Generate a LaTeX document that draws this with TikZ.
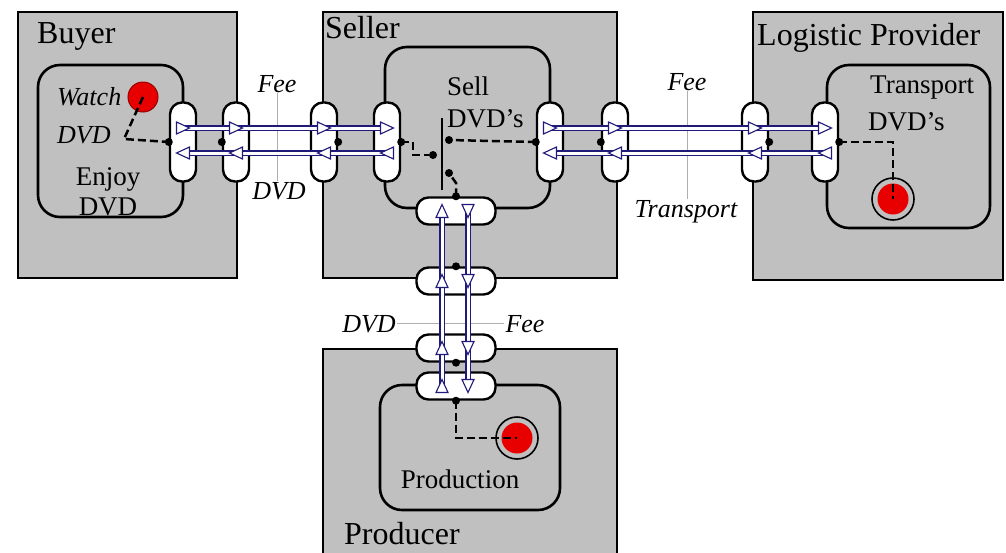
\documentclass[tikz,border=0pt]{standalone}
\usepackage{fontspec}
\setmainfont{Liberation Serif}
\usepackage{tikz}
\usetikzlibrary{
  arrows.meta,
  positioning,
  calc
}
\definecolor{panelgray}{RGB}{192,192,192}
\definecolor{flownavy}{RGB}{32,26,120}
\definecolor{labelgray}{RGB}{175,175,175}
\definecolor{stimred}{RGB}{232,0,0}

\begin{document}
\begin{tikzpicture}[x=1pt,y=-1pt,
  actor/.style={draw=black, fill=panelgray, line width=2.2pt, inner sep=0pt},
  activity/.style={draw=black, fill=panelgray, line width=2.6pt, rounded corners=22pt, inner sep=0pt},
  vface/.style={draw=black, fill=white, line width=2.4pt, rounded corners=12pt, minimum width=26pt, minimum height=79pt, inner sep=0pt},
  hface/.style={draw=black, fill=white, line width=2.4pt, rounded corners=12pt, minimum width=79pt, minimum height=27pt, inner sep=0pt},
  xline/.style={draw=flownavy, line width=1.7pt, double=white, double distance=3pt},
  dep/.style={draw=black, line width=2.5pt, dash pattern=on 8pt off 4pt},
  tagline/.style={draw=labelgray, line width=1pt},
  portdot/.style={circle, fill=black, minimum size=8pt, inner sep=0pt},
  actorname/.style={font=\fontsize{32}{36}\selectfont, inner sep=0pt},
  actname/.style={font=\fontsize{27}{30}\selectfont, inner sep=0pt},
  valname/.style={font=\fontsize{26}{30}\selectfont\itshape, inner sep=1pt},
  port/.pic={\draw[flownavy, fill=white, line width=1.1pt] (-6.5,-6) -- (6.5,0) -- (-6.5,6) -- cycle;}
]
\useasboundingbox (0,0) rectangle (1006,552);

\node[actor, minimum width=219pt, minimum height=266pt] (buyer) at (127.5,145) {};
\node[actor, minimum width=294pt, minimum height=266pt] (seller) at (470,145) {};
\node[actor, minimum width=250pt, minimum height=268pt] (logistic) at (878,146) {};
\node[actor, minimum width=294pt, minimum height=220pt] (producer) at (470,459) {};

\node[actorname, anchor=base west] (buyerT) at (37,43) {Buyer};
\node[actorname, anchor=base west] (sellerT) at (325,38) {Seller};
\node[actorname, anchor=base west] (logisticT) at (757,45) {Logistic Provider};
\node[actorname, anchor=base west] (producerT) at (344,544) {Producer};

\node[valname, anchor=base] (feeA) at (277,92) {Fee};
\node[valname, anchor=base] (dvdA) at (279,199) {DVD};
\node[valname, anchor=base] (feeB) at (687,90) {Fee};
\node[valname, anchor=base] (transB) at (686,217) {Transport};
\node[valname, anchor=base] (dvdC) at (369,332) {DVD};
\node[valname, anchor=base] (feeC) at (525,332) {Fee};
\draw[tagline] (feeA.south) -- (feeA.south |- dvdA.north);
\draw[tagline] (feeB.south) -- (feeB.south |- transB.north);
\draw[tagline] (dvdC.east) -- (dvdC.east -| feeC.west);

\node[activity, minimum width=145pt, minimum height=152pt] (watch) at (110.5,141) {};
\node[activity, minimum width=165pt, minimum height=161pt] (sell) at (467.5,127.5) {};
\node[activity, minimum width=163pt, minimum height=163pt] (transport) at (908.5,146.5) {};
\node[activity, minimum width=180pt, minimum height=125pt] (production) at (470,447.5) {};

\node[valname, anchor=base west, inner sep=0pt] (needA) at (57,105) {Watch};
\node[valname, anchor=base west, inner sep=0pt] (needB) at (57,143) {DVD};
\node[actname, anchor=base] (watchA) at (108,185) {Enjoy};
\node[actname, anchor=base] (watchB) at (108,215) {DVD};
\node[actname, anchor=base west] (sellA) at (447,95) {Sell};
\node[actname, anchor=base west] (sellB) at (447,127) {DVD's};
\node[actname, anchor=base west] (transA) at (870,93) {Transport};
\node[actname, anchor=base west] (transB2) at (868,130) {DVD's};
\node[actname, anchor=base] (productionT) at (460,488) {Production};

\node[vface] (biA) at (183,142) {};
\node[vface] (biB) at (236,142) {};
\node[vface] (siL) at (324,142) {};
\node[vface] (saL) at (387,142) {};
\node[vface] (saR) at (550,142) {};
\node[vface] (siR) at (615,142) {};
\node[vface] (liA) at (755,142) {};
\node[vface] (laA) at (825,142) {};
\node[hface] (saB) at (456,211) {};
\node[hface] (siB) at (456,281) {};
\node[hface] (piT) at (456,348) {};
\node[hface] (paT) at (456,386) {};

\draw[xline] ([yshift=14pt]biA.center) -- ([yshift=14pt]saL.center);
\draw[xline] ([yshift=-11pt]biA.center) -- ([yshift=-11pt]saL.center);
\draw[xline] ([yshift=14pt]saR.center) -- ([yshift=14pt]laA.center);
\draw[xline] ([yshift=-11pt]saR.center) -- ([yshift=-11pt]laA.center);
\draw[xline] ([xshift=-14pt]saB.center) -- ([xshift=-14pt]paT.center);
\draw[xline] ([xshift=12pt]saB.center) -- ([xshift=12pt]paT.center);

\foreach \f in {biA,biB,siL,saL,saR,siR,liA,laA}{
  \pic at ([yshift=14pt]\f.center) {port};
  \pic[rotate=180] at ([yshift=-11pt]\f.center) {port};
}
\foreach \f in {saB,siB,piT,paT}{
  \pic[rotate=90] at ([xshift=-14pt]\f.center) {port};
  \pic[rotate=-90] at ([xshift=12pt]\f.center) {port};
}

\foreach \f/\s in {biA/west,biB/west,siL/east,saL/east,saR/west,siR/west,liA/east,laA/east,saB/north,siB/north,piT/south,paT/south}
  \node[portdot] (\f-\s) at (\f.\s) {};

\node[fill=black, minimum width=2.6pt, minimum height=72pt, inner sep=0pt] (andbar) at (442,154) {};
\node[portdot] (andL) at (433,155) {};
\node[portdot] (andR) at (449,140) {};
\node[portdot] (andB) at (449,173) {};
\draw[dep] (saL.east) -- (413,142) -- (413,155) -- (andL);
\draw[dep] (saR.west) -- (andR);
\draw[dep] (saB.north) -- (456,183) -- (andB);

\node[circle, fill=stimred, draw=red!60!black, line width=1pt, minimum size=30pt, inner sep=0pt] (watchstart) at (143,97) {};
\draw[dep] (watchstart.center) -- (124,139) -- (biA.west);

\node[circle, draw=black, line width=1.6pt, fill=panelgray, minimum size=42pt, inner sep=0pt] (transend) at (893,199) {};
\node[circle, fill=stimred, minimum size=31pt, inner sep=0pt] (transcore) at (transend) {};
\draw[dep] (laA.east) -| (transcore.center);

\node[circle, draw=black, line width=1.6pt, fill=panelgray, minimum size=42pt, inner sep=0pt] (prodend) at (517,438) {};
\node[circle, fill=stimred, minimum size=31pt, inner sep=0pt] (prodcore) at (prodend) {};
\draw[dep] (paT.south) |- (prodcore.center);
\end{tikzpicture}
\end{document}
